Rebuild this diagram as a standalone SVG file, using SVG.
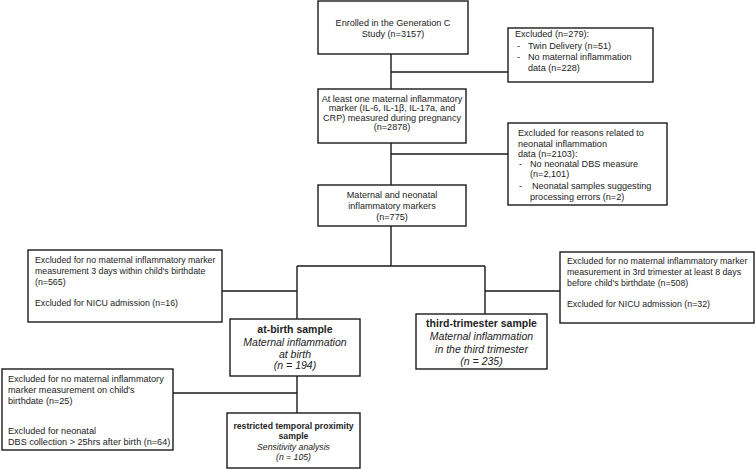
<svg xmlns="http://www.w3.org/2000/svg" width="756" height="470" viewBox="0 0 756 470">
<style>
.box{fill:#fff;stroke:#1a1a1a;stroke-width:1.4}
.ln{fill:none;stroke:#1a1a1a;stroke-width:1.4}
text{font-family:"Liberation Sans",Arial,sans-serif;fill:#222}
.s{font-size:9.1px}
.t{font-size:8.8px}
.c{text-anchor:middle}
.b{font-weight:bold;font-size:10.5px}
.i{font-style:italic;font-size:10.5px}
.b2{font-weight:bold;font-size:8.7px}
.i2{font-style:italic;font-size:8.7px}
</style>
<rect width="756" height="470" fill="#fff"/>
<g id="connectors">
<path class="ln" d="M391,54V89M391,72H508M391,143V185M391,154H508M391,226V266M297,266H485M297,266V319M485,266V314M222,291H297M485,291H560M297,376V413M173,393H297"/>
</g>
<g id="enrolled">
<rect class="box" x="318" y="1" width="150" height="53"/>
<text class="s c" x="393" y="26">Enrolled in the Generation C</text>
<text class="s c" x="393" y="37">Study (n=3157)</text>
</g>
<g id="excluded1">
<rect class="box" x="508" y="28" width="145" height="54"/>
<text class="s" x="515" y="37">Excluded (n=279):</text>
<text class="s" x="517" y="49">-</text>
<text class="s" x="528" y="49">Twin Delivery (n=51)</text>
<text class="s" x="517" y="60">-</text>
<text class="s" x="528" y="60">No maternal inflammation</text>
<text class="s" x="528" y="71">data (n=228)</text>
</g>
<g id="marker">
<rect class="box" x="318" y="89" width="148" height="54"/>
<text class="s c" x="392" y="101.5">At least one maternal inflammatory</text>
<text class="s c" x="392" y="111">marker (IL-6, IL-1β, IL-17a, and</text>
<text class="s c" x="392" y="120.5">CRP) measured during pregnancy</text>
<text class="s c" x="392" y="130">(n=2878)</text>
</g>
<g id="excluded2">
<rect class="box" x="508" y="123" width="159" height="82"/>
<text class="s" x="518" y="136">Excluded for reasons related to</text>
<text class="s" x="518" y="146.5">neonatal inflammation</text>
<text class="s" x="518" y="156.5">data (n=2103):</text>
<text class="s" x="519" y="166.5">-</text>
<text class="s" x="530" y="166.5">No neonatal DBS measure</text>
<text class="s" x="530" y="176.5">(n=2,101)</text>
<text class="s" x="519" y="188.5">-</text>
<text class="s" x="532" y="188.5">Neonatal samples suggesting</text>
<text class="s" x="530" y="199.5">processing errors (n=2)</text>
</g>
<g id="maternal-neonatal">
<rect class="box" x="318" y="185" width="148" height="41"/>
<text class="s c" x="392" y="198">Maternal and neonatal</text>
<text class="s c" x="392" y="209">inflammatory markers</text>
<text class="s c" x="392" y="220">(n=775)</text>
</g>
<g id="excluded-left">
<rect class="box" x="28" y="250" width="194" height="72"/>
<text class="t" x="35" y="263">Excluded for no maternal inflammatory marker</text>
<text class="t" x="35" y="274">measurement  3 days within child's birthdate</text>
<text class="t" x="35" y="284.5">(n=565)</text>
<text class="t" x="35" y="306">Excluded for NICU admission (n=16)</text>
</g>
<g id="excluded-right">
<rect class="box" x="560" y="252" width="194" height="71"/>
<text class="t" x="567" y="264">Excluded for no maternal inflammatory marker</text>
<text class="t" x="567" y="275">measurement in 3rd trimester at least 8 days</text>
<text class="t" x="567" y="285.5">before child's birthdate (n=508)</text>
<text class="t" x="567" y="307">Excluded for NICU admission (n=32)</text>
</g>
<g id="at-birth">
<rect class="box" x="230" y="319" width="130" height="57"/>
<text class="b c" x="295" y="332.5">at-birth sample</text>
<text class="i c" x="295" y="346">Maternal inflammation</text>
<text class="i c" x="295" y="357.5">at birth</text>
<text class="i c" x="295" y="369">(n = 194)</text>
</g>
<g id="third-trimester">
<rect class="box" x="416" y="314" width="131" height="55"/>
<text class="b c" x="481.5" y="327">third-trimester sample</text>
<text class="i c" x="481.5" y="340">Maternal inflammation</text>
<text class="i c" x="481.5" y="352.5">in the third trimester</text>
<text class="i c" x="481.5" y="365">(n = 235)</text>
</g>
<g id="excluded-bottom">
<rect class="box" x="2" y="369" width="171" height="81"/>
<text class="s" x="8" y="381.5">Excluded for no maternal inflammatory</text>
<text class="s" x="8" y="392.5">marker measurement on child's</text>
<text class="s" x="8" y="404">birthdate  (n=25)</text>
<text class="s" x="8" y="434">Excluded for neonatal</text>
<text class="s" x="8" y="445">DBS collection &gt; 25hrs after birth (n=64)</text>
</g>
<g id="restricted">
<rect class="box" x="227" y="413" width="133" height="55"/>
<text class="b2 c" x="293.5" y="428.5">restricted temporal proximity</text>
<text class="b2 c" x="293.5" y="438.5">sample</text>
<text class="i2 c" x="293.5" y="449.5">Sensitivity analysis</text>
<text class="i2 c" x="293.5" y="459.5">(n = 105)</text>
</g>
</svg>
